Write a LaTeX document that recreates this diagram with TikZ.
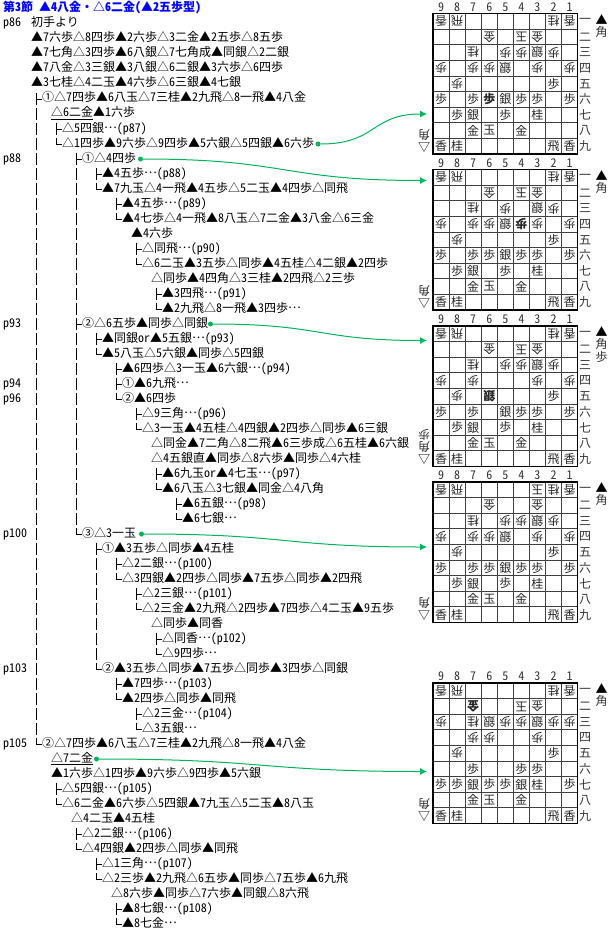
\documentclass[tikz,border=0pt]{standalone}
\usepackage{fontspec}
\setmainfont[RawFeature=+hwid]{Noto Sans CJK JP}
\newfontfamily\fullfont{Noto Sans CJK JP}
\newcommand\more{\raisebox{3.6pt}{\fullfont …}}
\usetikzlibrary{arrows.meta}
\definecolor{movegreen}{RGB}{0,180,90}
\tikzset{
  rowtext/.style={anchor=west, inner sep=0pt, text height=9pt, text depth=3pt, font=\fontsize{12}{12}\selectfont},
  rowtitle/.style={rowtext, font=\fontsize{12}{12}\selectfont\bfseries, text=blue},
  stem/.style={line width=0.9pt, dash pattern=on 12pt off 3pt},
  branchtick/.style={line width=0.9pt},
  piece/.style={inner sep=0pt, font=\fontsize{12}{12}\selectfont, text=black!85},
  whitepiece/.style={piece, rotate=180},
  boardmark/.style={inner sep=0pt, font=\fontsize{12}{12}\selectfont, text=black!80},
  gdot/.style={circle, fill=movegreen, inner sep=0pt, minimum size=5pt},
  flow/.style={movegreen, line width=1pt, looseness=1.3, -{Latex[length=7pt,width=7pt]}}
}
\def\blackbase{2/5/歩,7/6/歩,4/6/歩,3/6/歩,7/7/銀,3/7/桂,7/8/金,6/8/玉,4/8/金,9/9/香,8/9/桂,2/9/飛,1/9/香}
\def\whitebase{9/1/香,8/1/飛,2/1/桂,1/1/香,3/2/金,7/3/桂,5/3/歩,3/3/銀,2/3/歩,7/4/歩,3/4/歩,8/5/歩}
\newcommand\shogiboard[5]{%
  \foreach \i in {1,...,8} {
    \draw[black!75, line width=0.8pt] ({433+16.07*\i},#2) -- ({433+16.07*\i},{#2+140.5});
    \draw[black!75, line width=0.8pt] (433,{#2+15.61*\i}) -- (577.6,{#2+15.61*\i});
  }
  \draw[line width=1.4pt] (433,#2) rectangle (577.6,{#2+140.5});
  \foreach \col in {1,...,9}
    \node[boardmark] (#1top\col) at ({433+16.07*(9.5-\col)},{#2-6.5}) {\col};
  \foreach \rank/\kan in {1/一,2/二,3/三,4/四,5/五,6/六,7/七,8/八,9/九}
    \node[boardmark] (#1rank\rank) at (585,{#2+15.61*(\rank-.5)}) {\kan};
  \foreach \col/\rank/\pc in \blackbase
    \node[piece] (#1p\col\rank) at ({433+16.07*(9.5-\col)},{#2+15.61*(\rank-.5)}) {\pc};
  \foreach \col/\rank/\pc in \whitebase
    \node[whitepiece] (#1p\col\rank) at ({433+16.07*(9.5-\col)},{#2+15.61*(\rank-.5)}) {\pc};
  \foreach \col/\rank/\pc in {#3}
    \node[piece] (#1p\col\rank) at ({433+16.07*(9.5-\col)},{#2+15.61*(\rank-.5)}) {\pc};
  \foreach \col/\rank/\pc in {#4}
    \node[whitepiece] (#1p\col\rank) at ({433+16.07*(9.5-\col)},{#2+15.61*(\rank-.5)}) {\pc};
  \node[boardmark, text=black] (#1sente) at (601.5,{#2+6}) {▲};
  \node[boardmark, text=black, rotate=180] (#1gote) at (424,{#2+133.5}) {△};
  \foreach \pc [count=\k] in {#5} {
    \node[boardmark] (#1hand\k) at (601.5,{#2+6+12.4*\k}) {\pc};
    \node[boardmark, rotate=180] (#1opp\k) at (424,{#2+133.5-12.4*\k}) {\pc};
  }
}
\begin{document}
\begin{tikzpicture}[x=1pt, y=-1pt]
  \useasboundingbox (0,0) rectangle (612,931);
  \node[rowtitle] (r0) at (3,9) {第3節　▲4八金・△6二金（▲2五歩型）};
  \foreach \n/\col/\txt in {
    1/31/初手より,
    2/31/▲7六歩△8四歩▲2六歩△3二金▲2五歩△8五歩,
    3/31/▲7七角△3四歩▲6八銀△7七角成▲同銀△2二銀,
    4/31/▲7八金△3三銀▲3八銀△6二銀▲3六歩△6四歩,
    5/31/▲3七桂△4二玉▲4六歩△6三銀▲4七銀,
    6/42/①△7四歩▲6八玉△7三桂▲2九飛△8一飛▲4八金,
    7/51/\underline{△6二金}▲1六歩,
    8/62/△5四銀\more(p87),
    9/62/△1四歩▲9六歩△9四歩▲5六銀△5四銀▲6六歩,
    10/82/①△4四歩,
    11/102/▲4五歩\more(p88),
    12/102/▲7九玉△4一飛▲4五歩△5二玉▲4四歩△同飛,
    13/122/▲4五歩\more(p89),
    14/122/▲4七歩△4一飛▲8八玉△7二金▲3八金△6三金,
    15/131/▲4六歩,
    16/142/△同飛\more(p90),
    17/142/△6二玉▲3五歩△同歩▲4五桂△4二銀▲2四歩,
    18/151/△同歩▲4四角△3三桂▲2四飛△2三歩,
    19/162/▲3四飛\more(p91),
    20/162/▲2九飛△8一飛▲3四歩\more,
    21/82/②△6五歩▲同歩△同銀,
    22/102/▲同銀or▲5五銀\more(p93),
    23/102/▲5八玉△5六銀▲同歩△5四銀,
    24/122/▲6四歩△3一玉▲6六銀\more(p94),
    25/122/①▲6九飛\more,
    26/122/②▲6四歩,
    27/142/△9三角\more(p96),
    28/142/△3一玉▲4五桂△4四銀▲2四歩△同歩▲6三銀,
    29/151/△同金▲7二角△8二飛▲6三歩成△6五桂▲6六銀,
    30/151/△4五銀直▲同歩△8六歩▲同歩△4六桂,
    31/162/▲6九玉or▲4七玉\more(p97),
    32/162/▲6八玉△3七銀▲同金△4八角,
    33/182/▲6五銀\more(p98),
    34/182/▲6七銀\more,
    35/82/③△3一玉,
    36/102/①▲3五歩△同歩▲4五桂,
    37/122/△2二銀\more(p100),
    38/122/△3四銀▲2四歩△同歩▲7五歩△同歩▲2四飛,
    39/142/△2三銀\more(p101),
    40/142/△2三金▲2九飛△2四歩▲7四歩△4二玉▲9五歩,
    41/151/△同歩▲同香,
    42/162/△同香\more(p102),
    43/162/△9四歩\more,
    44/102/②▲3五歩△同歩▲7五歩△同歩▲3四歩△同銀,
    45/122/▲7四歩\more(p103),
    46/122/▲2四歩△同歩▲同飛,
    47/142/△2三金\more(p104),
    48/142/△3五銀\more,
    49/42/②△7四歩▲6八玉△7三桂▲2九飛△8一飛▲4八金,
    50/51/\underline{△7二金},
    51/51/▲1六歩△1四歩▲9六歩△9四歩▲5六銀,
    52/62/△5四銀\more(p105),
    53/62/△6二金▲6六歩△5四銀▲7九玉△5二玉▲8八玉,
    54/71/△4二玉▲4五桂,
    55/82/△2二銀\more(p106),
    56/82/△4四銀▲2四歩△同歩▲同飛,
    57/102/△1三角\more(p107),
    58/102/△2三歩▲2九飛△6五歩▲同歩△7五歩▲6九飛,
    59/111/△8六歩▲同歩△7六歩▲同銀△8六飛,
    60/122/▲8七銀\more(p108),
    61/122/▲8七金\more}
    \node[rowtext] (r\n) at (\col,{9+15*\n}) {\txt};
  \foreach \pg/\n in {86/1,88/10,93/21,94/25,96/26,100/35,103/44,105/49}
    \node[rowtext] (pg\pg) at (3,{9+15*\n}) {p\pg};
  \foreach \first/\last in {6/49,8/9,10/35,11/12,13/14,16/17,19/20,22/23,24/26,27/28,31/32,33/34,
      36/44,37/38,39/40,42/43,45/46,47/48,52/53,55/56,57/58,60/61}
    \draw[stem] ([shift={(-6pt,6pt)}]r\first.west) -- ([xshift=-6pt]r\last.west);
  \foreach \n in {6,8,9,10,11,12,13,14,16,17,19,20,21,22,23,24,25,26,27,28,31,32,33,34,35,
      36,37,38,39,40,42,43,44,45,46,47,48,49,52,53,55,56,57,58,60,61}
    \draw[branchtick] ([xshift=-6pt]r\n.west) -- (r\n.west);
  \shogiboard{a}{13.5}{9/6/歩,6/6/\bfseries 歩,5/6/銀,1/6/歩,8/7/歩,5/7/歩}
    {6/2/金,4/2/玉,4/3/歩,9/4/歩,6/4/歩,5/4/銀,1/4/歩}{角}
  \shogiboard{b}{169.5}{9/6/歩,6/6/歩,5/6/銀,1/6/歩,8/7/歩,5/7/歩}
    {6/2/金,4/2/玉,9/4/歩,6/4/歩,5/4/銀,4/4/\bfseries 歩,1/4/歩}{角}
  \shogiboard{c}{326}{9/6/歩,5/6/銀,1/6/歩,8/7/歩,5/7/歩}
    {6/2/金,4/2/玉,4/3/歩,9/4/歩,1/4/歩,6/5/\bfseries 銀}{角,歩}
  \shogiboard{d}{482}{9/6/歩,6/6/歩,5/6/銀,1/6/歩,8/7/歩,5/7/歩}
    {3/1/玉,6/2/金,4/3/歩,9/4/歩,6/4/歩,5/4/銀,1/4/歩}{角}
  \shogiboard{e}{683}{9/7/歩,8/7/歩,6/7/歩,5/7/歩,4/7/銀,1/7/歩}
    {7/2/\bfseries 金,4/2/玉,9/3/歩,6/3/銀,4/3/歩,1/3/歩,6/4/歩}{角}
  \node[gdot] (d1) at (318,144) {};
  \node[gdot] (d2) at (140.5,159) {};
  \node[gdot] (d3) at (210.5,324) {};
  \node[gdot] (d4) at (141.5,534) {};
  \node[gdot] (d5) at (96.5,759) {};
  \coordinate (in1) at (427,114);
  \coordinate (in2) at (427,180.5);
  \coordinate (in3) at (427,340.5);
  \coordinate (in4) at (427,547);
  \coordinate (in5) at (427,771.5);
  \draw[flow] (d1) to[out=0,in=180] (in1);
  \draw[flow] (d2) to[out=0,in=180] (in2);
  \draw[flow] (d3) to[out=0,in=180] (in3);
  \draw[flow] (d4) to[out=0,in=180] (in4);
  \draw[flow] (d5) to[out=0,in=180] (in5);
\end{tikzpicture}
\end{document}
